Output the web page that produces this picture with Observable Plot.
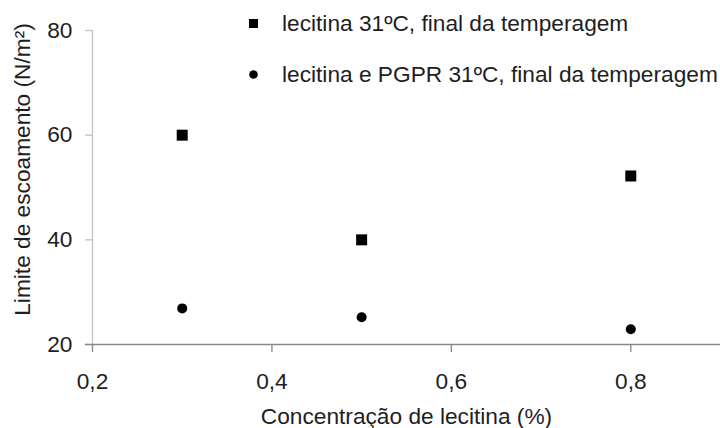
<!DOCTYPE html>
<html>
<head>
<meta charset="utf-8">
<script src="https://cdn.jsdelivr.net/npm/d3@7"></script>
<script src="https://cdn.jsdelivr.net/npm/@observablehq/plot@0.6"></script>
<style>
  html, body { margin: 0; padding: 0; background: #fff; }
  #chart { position: relative; width: 720px; height: 428px; font-family: "Liberation Sans", Arial, sans-serif; }
  #legend { position: absolute; left: 0; top: 0; font-size: 22.7px; color: #1e1e1e; }
  .row { position: absolute; left: 249px; white-space: nowrap; display: flex; align-items: center; height: 24px; }
  .row svg { margin-right: 24px; }
</style>
</head>
<body>
<div id="chart"></div>
<script>
// Lecithin concentration (%) on x, yield stress (N/m²) on y
const concentrations = [0.3, 0.5, 0.8];
const lecitina = [60, 40, 52.2];
const lecitinaPGPR = [26.9, 25.2, 22.9];
const seriesNames = [
  "lecitina 31ºC, final da temperagem",
  "lecitina e PGPR 31ºC, final da temperagem"
];
const seriesSymbols = ["square", "circle"];
const xTicks = [0.2, 0.4, 0.6, 0.8];
const yTicks = [20, 40, 60, 80];
const xLabel = "Concentração de lecitina (%)";
const yLabel = "Limite de escoamento (N/m²)";

const points = [
  ...concentrations.map((c, i) => ({x: c, y: lecitina[i], s: seriesNames[0]})),
  ...concentrations.map((c, i) => ({x: c, y: lecitinaPGPR[i], s: seriesNames[1]}))
];

const comma = d => d.toFixed(1).replace(".", ",");
const textColor = "#1e1e1e";
const fs = 22.7;

const plot = Plot.plot({
  width: 720,
  height: 428,
  marginLeft: 92,
  marginRight: 0,
  marginTop: 30,
  marginBottom: 84,
  style: {fontFamily: "'Liberation Sans', Arial, sans-serif", fontSize: fs + "px", color: textColor, background: "#fff"},
  x: {domain: [0.2, 0.9]},
  y: {domain: [20, 80]},
  symbol: {domain: seriesNames, range: seriesSymbols},
  marks: [
    // y axis: light line and ticks, then labels
    Plot.ruleX([0.2], {stroke: "#c4c4c4", strokeWidth: 1.3}),
    Plot.axisY(yTicks, {tickSize: 7, stroke: "#c4c4c4", strokeWidth: 1.3, text: null, label: null}),
    Plot.axisY(yTicks, {tickSize: 0, tickPadding: 20, fill: textColor, fontSize: fs, label: null}),
    // x axis: darker baseline and downward ticks
    Plot.ruleY([20], {stroke: "#878787", strokeWidth: 1.6, insetLeft: -7}),
    Plot.axisX(xTicks, {tickSize: 8, tickPadding: 20, stroke: "#878787", strokeWidth: 1.3, fill: textColor, fontSize: fs, tickFormat: comma, label: null}),
    Plot.text([xLabel], {frameAnchor: "bottom", dy: 72, lineAnchor: "middle", textAnchor: "middle", fontSize: fs, fill: textColor}),
    Plot.text([yLabel], {frameAnchor: "left", rotate: -90, dx: -70, dy: -18, lineAnchor: "middle", textAnchor: "middle", fontSize: fs, fill: textColor}),
    Plot.dot(points.filter(d => d.s === seriesNames[0]), {x: "x", y: "y", symbol: "s", r: 6.2, fill: "#000", stroke: "none"}),
    Plot.dot(points.filter(d => d.s === seriesNames[1]), {x: "x", y: "y", symbol: "s", r: 5, fill: "#000", stroke: "none"})
  ]
});

const chart = document.getElementById("chart");
chart.appendChild(plot);

// legend drawn over the top of the plot area
const legend = document.createElement("div");
legend.id = "legend";
const rowTops = [11, 62];
seriesNames.forEach((name, i) => {
  const row = document.createElement("div");
  row.className = "row";
  row.style.top = rowTops[i] + "px";
  const sym = seriesSymbols[i] === "square"
    ? '<svg width="9" height="9"><rect x="0" y="0" width="9" height="9" fill="#000"/></svg>'
    : '<svg width="9" height="9"><circle cx="4.5" cy="4.5" r="4.3" fill="#000"/></svg>';
  row.innerHTML = sym + "<span>" + name + "</span>";
  legend.appendChild(row);
});
chart.appendChild(legend);
</script>
</body>
</html>
